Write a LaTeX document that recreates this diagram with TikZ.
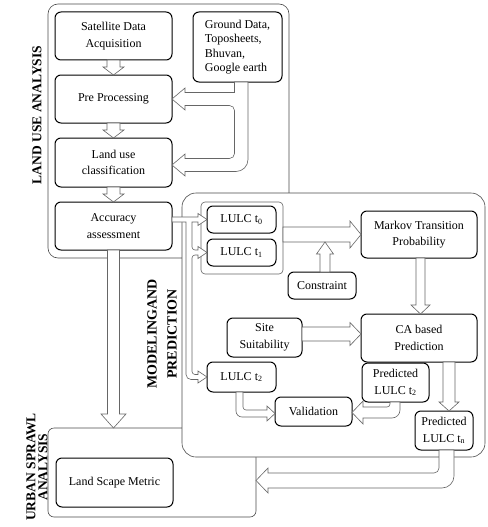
\documentclass[tikz,border=0pt]{standalone}
\usepackage{fontspec}
\setmainfont{Liberation Serif}
\usetikzlibrary{calc}
\tikzset{
 box/.style={draw=black, line width=1pt, rounded corners=6pt, fill=white, align=center, inner sep=0pt, outer sep=0pt, font=\fontsize{12}{16.5}\selectfont},
 sect/.style={draw=black!70, line width=0.6pt, fill=white, inner sep=0pt, outer sep=0pt},
 grpbox/.style={draw=black!60, line width=0.6pt, rounded corners=4pt, inner sep=0pt, outer sep=0pt},
 harrow/.style={draw=black!60, line width=0.6pt, fill=white},
 seclbl/.style={font=\fontsize{13.5}{12}\selectfont\bfseries, rotate=90, align=center, inner sep=0pt}
}
\newcommand\bx[6]{\node[box, minimum width=#4pt, minimum height=#5pt] (#1) at (#2,#3) {#6};}
\newcommand\downblock[5]{\draw[harrow] let \p1=(#1), \p2=(#2) in
 (\x1-#3pt,\y1) -- (\x1-#3pt,\y2+#5pt) -- (\x1-#4pt,\y2+#5pt) -- (\x1,\y2) -- (\x1+#4pt,\y2+#5pt) -- (\x1+#3pt,\y2+#5pt) -- (\x1+#3pt,\y1) -- cycle;}
\newcommand\upblock[5]{\draw[harrow] let \p1=(#1), \p2=(#2) in
 (\x1-#3pt,\y1) -- (\x1-#3pt,\y2-#5pt) -- (\x1-#4pt,\y2-#5pt) -- (\x1,\y2) -- (\x1+#4pt,\y2-#5pt) -- (\x1+#3pt,\y2-#5pt) -- (\x1+#3pt,\y1) -- cycle;}
\newcommand\rightblock[5]{\draw[harrow] let \p1=(#1), \p2=(#2) in
 (\x1,\y1+#3pt) -- (\x2-#5pt,\y1+#3pt) -- (\x2-#5pt,\y1+#4pt) -- (\x2,\y1) -- (\x2-#5pt,\y1-#4pt) -- (\x2-#5pt,\y1-#3pt) -- (\x1,\y1-#3pt) -- cycle;}
\begin{document}
\begin{tikzpicture}[x=1pt,y=-1pt]
\useasboundingbox (0,0) rectangle (487,527);
% section frames
\node[sect, rounded corners=10pt, minimum width=241pt, minimum height=254pt] (lu) at (168.5,131) {};
\node[sect, rounded corners=6pt, minimum width=208pt, minimum height=89pt] (urb) at (152,472.5) {};
\node[sect, rounded corners=14pt, minimum width=303pt, minimum height=264pt] (mod) at (333.5,325) {};
% section labels
\node[seclbl] (lulbl) at (37,115) {LAND USE ANALYSIS};
\node[seclbl, font=\fontsize{14}{20}\selectfont\bfseries] (modlbl) at (162,334) {MODELINGAND\\PREDICTION};
\node[seclbl] (urblbl) at (37,467) {URBAN SPRAWL\\ANALYSIS};
% group frame
\node[grpbox, minimum width=82pt, minimum height=72pt] (grp) at (242,238) {};
% boxes
\bx{sat}{113.5}{36}{117}{48}{Satellite Data\\Acquisition}
\bx{pre}{113.5}{99}{117}{48}{Pre Processing}
\bx{luc}{113.5}{162.5}{117}{49}{Land use\\classification}
\bx{acc}{113.5}{226}{117}{48}{Accuracy\\assessment}
\node[box, align=left, font=\fontsize{12}{14.4}\selectfont, minimum width=89pt, minimum height=70pt] (gd) at (237.5,47) {Ground Data,\\Toposheets,\\Bhuvan,\\Google earth};
\bx{t0}{241.5}{219.5}{69}{27}{LULC t\textsubscript{0}}
\bx{t1}{241.5}{252.5}{69}{27}{LULC t\textsubscript{1}}
\bx{mk}{419}{234.5}{116}{47}{Markov Transition\\Probability}
\bx{cons}{322}{285.5}{68}{27}{Constraint}
\bx{site}{264.5}{337.5}{75}{39}{Site\\Suitability}
\bx{ca}{419}{338}{116}{48}{CA based\\Prediction}
\bx{t2}{241.5}{377}{69}{30}{LULC t\textsubscript{2}}
\bx{val}{313.5}{411.5}{77}{29}{Validation}
\bx{pt2}{395.5}{382.5}{67}{39}{Predicted\\LULC t\textsubscript{2}}
\bx{ptn}{444}{430.5}{58}{39}{Predicted\\LULC t\textsubscript{n}}
\bx{lsm}{114.5}{482.5}{117}{49}{Land Scape Metric}
% arrows in land use analysis
\downblock{sat.south}{pre.north}{6.5}{10.5}{8}
\downblock{pre.south}{luc.north}{6.5}{10.5}{8}
\downblock{luc.south}{acc.north}{6.5}{10.5}{8}
\downblock{acc.south}{acc.south |- urb.north}{6}{12.5}{14}
% ground data arrows
\draw[harrow]
 ($(gd.south)+(-3,0)$) -- ($(gd.south |- pre.east)+(-3,-6.5)$) -- ($(pre.east)+(13,-6.5)$) -- ($(pre.east)+(13,-11)$) -- (pre.east) -- ($(pre.east)+(13,11)$) -- ($(pre.east)+(13,6.5)$)
 [rounded corners=5pt] -- ($(gd.south |- pre.east)+(-3,6.5)$) -- ($(gd.south |- luc.east)+(-3,-4)$)
 [sharp corners] -- ($(luc.east)+(13,-4)$) -- ($(luc.east)+(13,-8.5)$) -- ($(luc.east)+(0,2.5)$) -- ($(luc.east)+(13,13.5)$) -- ($(luc.east)+(13,9)$)
 [rounded corners=12pt] -- ($(gd.south |- luc.east)+(10.5,9)$) [sharp corners] -- ($(gd.south)+(10.5,0)$) -- cycle;
% accuracy to LULC t0, t1, t2
\draw[harrow]
 ($(acc.east |- t0.west)+(0,-2.5)$) -- ($(t0.west)+(-9,-2.5)$) -- ($(t0.west)+(-9,-6)$) -- (t0.west) -- ($(t0.west)+(-9,6)$) -- ($(t0.west)+(-9,2.5)$) -- ($(t0.west)+(-15,2.5)$)
 [rounded corners=3pt] -- ($(t1.west)+(-15,-2.5)$) [sharp corners] -- ($(t1.west)+(-9,-2.5)$)
 -- ($(t1.west)+(-9,-6)$) -- (t1.west) -- ($(t1.west)+(-9,6)$) -- ($(t1.west)+(-9,2.5)$)
 [rounded corners=3pt] -- ($(t1.west)+(-15,2.5)$) -- ($(t2.west)+(-15,-2.5)$) [sharp corners] -- ($(t2.west)+(-9,-2.5)$)
 -- ($(t2.west)+(-9,-6)$) -- (t2.west) -- ($(t2.west)+(-9,6)$) -- ($(t2.west)+(-9,2.5)$)
 [rounded corners=5pt] -- ($(t2.west)+(-21,2.5)$) [sharp corners] -- ($(t0.west)+(-21,2.5)$) -- ($(acc.east |- t0.west)+(0,2.5)$) -- cycle;
% modeling arrows
\rightblock{grp.east |- mk.west}{mk.west}{7.5}{13.5}{11}
\upblock{$(cons.north)+(3,0)$}{$(cons.north |- mk.west)+(3,7.5)$}{5}{8.5}{12}
\downblock{$(mk.south)+(1.5,0)$}{$(ca.north)+(1.5,0)$}{4.5}{9.5}{9}
\rightblock{$(site.east)+(0,-3.5)$}{$(ca.west)+(0,-3.5)$}{7}{11.5}{11}
\downblock{$(ca.south -| ptn.north)+(5,0)$}{$(ptn.north)+(5,0)$}{6}{10}{9}
% LULC t2 -> validation
\draw[harrow]
 ($(t2.south)+(-5.5,0)$) [rounded corners=6pt] -- ($(t2.south |- val.west)+(-5.5,5.5)$) [sharp corners] -- ($(val.west)+(-8,5.5)$) -- ($(val.west)+(-8,9.5)$) -- ($(val.west)+(0,2)$) -- ($(val.west)+(-8,-5.5)$) -- ($(val.west)+(-8,-1.5)$)
 [rounded corners=3pt] -- ($(t2.south |- val.west)+(1.5,-1.5)$) [sharp corners] -- ($(t2.south)+(1.5,0)$) -- cycle;
% predicted t2 -> validation
\draw[harrow]
 ($(pt2.south)+(-5.5,0)$) [rounded corners=3pt] -- ($(pt2.south |- val.east)+(-5.5,-4.5)$) [sharp corners] -- ($(val.east)+(11,-4.5)$) -- ($(val.east)+(11,-10.5)$) -- ($(val.east)+(0,1)$) -- ($(val.east)+(11,12.5)$) -- ($(val.east)+(11,6.5)$)
 [rounded corners=8pt] -- ($(pt2.south |- val.east)+(4.5,6.5)$) [sharp corners] -- ($(pt2.south)+(4.5,0)$) -- cycle;
% predicted tn -> urban sprawl
\draw[harrow]
 ($(ptn.south)+(-5,0)$) [rounded corners=5pt] -- ($(ptn.south)+(-5,23)$) [sharp corners] -- ($(urb.east)+(12,0.5)$) -- ($(urb.east)+(12,-4.5)$) -- ($(urb.east)+(0,8)$) -- ($(urb.east)+(12,20.5)$) -- ($(urb.east)+(12,15.5)$)
 [rounded corners=12pt] -- ($(ptn.south)+(10,38)$) [sharp corners] -- ($(ptn.south)+(10,0)$) -- cycle;
\end{tikzpicture}
\end{document}
